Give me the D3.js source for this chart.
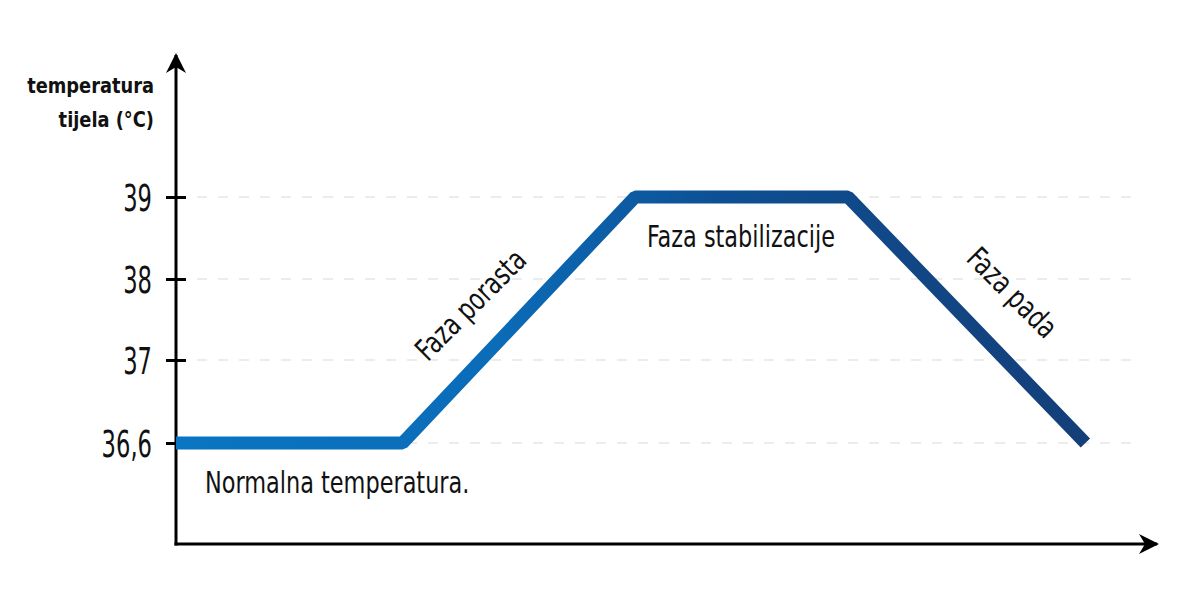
<!DOCTYPE html>
<html><head><meta charset="utf-8">
<script src="https://cdn.jsdelivr.net/npm/d3@7"></script>
<style>
html,body{margin:0;padding:0;background:#fff;}
svg text{font-family:"DejaVu Sans Condensed","Liberation Sans Narrow",sans-serif;fill:#111;}
</style></head>
<body>
<svg id="chart" width="1200" height="607"></svg>
<script>
// Data
const timePoints = [0, 23.1, 46.8, 68.5, 92.7];
const temperatures = [36.6, 36.6, 39, 39, 36.6];
const tickValues = [36.6, 37, 38, 39];
const tickLabels = ["36,6", "37", "38", "39"];
const yTitle = ["temperatura", "tijela (°C)"];
const phaseLabels = ["Normalna temperatura.", "Faza porasta", "Faza stabilizacije", "Faza pada"];

const svg = d3.select("#chart");
const x0 = 176, yBase = 544;
const x = d3.scaleLinear().domain([0, 100]).range([176, 1157]);
const y = d3.scaleLinear().domain([36.6, 37, 38, 39]).range([443, 360, 279, 197]);

// squeeze text horizontally to mimic a condensed face
function condense(sel, f) {
  sel.each(function () {
    const w = this.getComputedTextLength();
    d3.select(this).attr("textLength", w * f).attr("lengthAdjust", "spacingAndGlyphs");
  });
}

// gradient
const defs = svg.append("defs");
const grad = defs.append("linearGradient").attr("id", "lg")
  .attr("gradientUnits", "userSpaceOnUse")
  .attr("x1", x(0)).attr("x2", x(92.7)).attr("y1", 0).attr("y2", 0);
grad.append("stop").attr("offset", "0%").attr("stop-color", "#0a75c2");
grad.append("stop").attr("offset", "35%").attr("stop-color", "#0b6cb8");
grad.append("stop").attr("offset", "60%").attr("stop-color", "#0e4f93");
grad.append("stop").attr("offset", "100%").attr("stop-color", "#143f79");

defs.append("marker").attr("id", "arr").attr("viewBox", "0 0 10 10")
  .attr("refX", 9).attr("refY", 5)
  .attr("markerUnits", "userSpaceOnUse").attr("orient", "auto")
  .attr("markerWidth", 20).attr("markerHeight", 20)
  .append("path").attr("d", "M0,0 L10,5 L0,10 L3,5 Z").attr("fill", "#000");

// grid lines
svg.append("g").selectAll("line").data(tickValues).join("line")
  .attr("x1", x0).attr("x2", 1140)
  .attr("y1", d => y(d)).attr("y2", d => y(d))
  .attr("stroke", "#d9d9d9").attr("stroke-width", 1.2)
  .attr("stroke-dasharray", "10,11");

// axes
svg.append("line").attr("x1", x0).attr("y1", yBase + 1.5).attr("x2", x0).attr("y2", 55)
  .attr("stroke", "#000").attr("stroke-width", 3).attr("marker-end", "url(#arr)");
svg.append("line").attr("x1", x0 - 1.5).attr("y1", yBase).attr("x2", 1157).attr("y2", yBase)
  .attr("stroke", "#000").attr("stroke-width", 3).attr("marker-end", "url(#arr)");

// y ticks
const yAxis = d3.axisLeft(y).tickValues(tickValues).tickFormat((d, i) => tickLabels[i])
  .tickSizeInner(10).tickSizeOuter(0).tickPadding(8);
const gy = svg.append("g").attr("transform", `translate(${x0},0)`).call(yAxis);
gy.select(".domain").remove();
gy.selectAll(".tick line").attr("x1", -10).attr("x2", 10).attr("stroke", "#000").attr("stroke-width", 3);
gy.selectAll(".tick text").attr("font-size", 37).attr("x", -24).attr("dy", "0.36em")
  .style("font-family", '"DejaVu Sans Condensed",sans-serif').attr("fill", "#111");
condense(gy.selectAll(".tick text"), 0.68);

// y title
const tt = svg.append("text").attr("text-anchor", "end").attr("font-weight", "bold").attr("font-size", 22)
  .selectAll("tspan").data(yTitle).join("tspan")
  .attr("x", 154).attr("y", (d, i) => 93 + i * 34).text(d => d);
condense(tt, 0.9);

// line
const pts = timePoints.map((t, i) => [t, temperatures[i]]);
svg.append("path").datum(pts)
  .attr("d", d3.line().x(d => x(d[0])).y(d => y(d[1])))
  .attr("fill", "none").attr("stroke", "url(#lg)").attr("stroke-width", 13)
  .attr("stroke-linejoin", "bevel").attr("stroke-linecap", "butt");

// labels
const l0 = svg.append("text").attr("x", 205).attr("y", 493).attr("font-size", 30).text(phaseLabels[0]);
const l2 = svg.append("text").attr("x", 741).attr("y", 247)
  .attr("text-anchor", "middle").attr("font-size", 30).text(phaseLabels[2]);
const l1 = svg.append("text").attr("transform", "translate(478,312) rotate(-45)")
  .attr("text-anchor", "middle").attr("font-size", 30).text(phaseLabels[1]);
const l3 = svg.append("text").attr("transform", "translate(1005,300) rotate(45)")
  .attr("text-anchor", "middle").attr("font-size", 30).text(phaseLabels[3]);
[l0, l1, l2, l3].forEach(s => condense(s, 0.83));
</script>
</body></html>
